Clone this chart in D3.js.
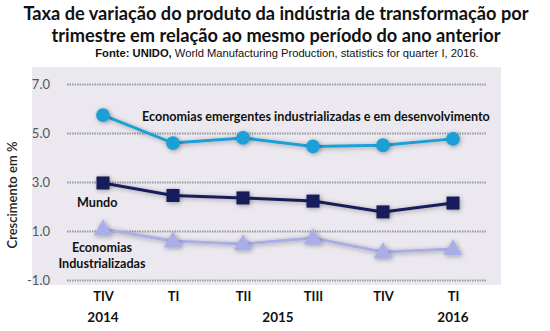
<!DOCTYPE html>
<html>
<head>
<meta charset="utf-8">
<script src="https://cdn.jsdelivr.net/npm/d3@7"></script>
<style>
  body { margin: 0; background: #fff; }
  svg { display: block; }
</style>
</head>
<body>
<div class="chart"></div>
<script>
// data
const quarters = ["TIV 2014", "TI 2015", "TII 2015", "TIII 2015", "TIV 2015", "TI 2016"];
const quarterLabels = ["TIV", "TI", "TII", "TIII", "TIV", "TI"];
const emergentes = [5.73, 4.59, 4.8, 4.45, 4.5, 4.76];
const mundo = [2.96, 2.45, 2.35, 2.22, 1.78, 2.14];
const industrializadas = [1.08, 0.59, 0.47, 0.71, 0.14, 0.27];
const yTicks = [-1, 1, 3, 5, 7];
const years = [
  { label: "2014", from: 0, to: 0 },
  { label: "2015", from: 2, to: 3 },
  { label: "2016", from: 5, to: 5 }
];

(function() {
  const svgWidth = 550, svgHeight = 331;

  const svg = d3.select(".chart")
    .append("svg")
    .attr("width", svgWidth)
    .attr("height", svgHeight);

  const defs = svg.append("defs");
  const f = defs.append("filter").attr("id", "shadow")
    .attr("x", "-80%").attr("y", "-80%").attr("width", "260%").attr("height", "260%");
  f.append("feGaussianBlur").attr("in", "SourceAlpha").attr("stdDeviation", 2.5).attr("result", "b");
  f.append("feOffset").attr("in", "b").attr("dx", 1).attr("dy", 1).attr("result", "o");
  f.append("feComponentTransfer").attr("in", "o").attr("result", "o2")
    .append("feFuncA").attr("type", "linear").attr("slope", 0.35);
  const m = f.append("feMerge");
  m.append("feMergeNode").attr("in", "o2");
  m.append("feMergeNode").attr("in", "SourceGraphic");

  // title
  const title = svg.append("text")
    .attr("text-anchor", "middle")
    .attr("font-family", "Lato, 'Open Sans', sans-serif")
    .attr("font-weight", "bold")
    .attr("font-size", 18.2)
    .attr("fill", "#111");
  title.append("tspan").attr("x", 276).attr("y", 20)
    .text("Taxa de variação do produto da indústria de transformação por");
  title.append("tspan").attr("x", 276).attr("y", 42)
    .text("trimestre em relação ao mesmo período do ano anterior");

  const sub = svg.append("text")
    .attr("x", 287).attr("y", 57)
    .attr("text-anchor", "middle")
    .attr("font-family", "'Liberation Sans', Arial, sans-serif")
    .attr("font-size", 11.2)
    .attr("fill", "#111");
  sub.append("tspan").attr("font-weight", "bold").text("Fonte: UNIDO, ");
  sub.append("tspan").text("World Manufacturing Production, statistics for quarter I, 2016.");

  // plot area
  svg.append("rect")
    .attr("x", 32).attr("y", 67)
    .attr("width", 469).attr("height", 218)
    .attr("fill", "#ebe9ef");

  const x = d3.scalePoint()
    .domain(quarters)
    .range([103, 453]);

  const y = d3.scaleLinear()
    .domain([-1, 7])
    .range([280, 84]);

  // grid lines
  const yAxis = d3.axisLeft(y)
    .tickValues(yTicks)
    .tickFormat(d => d.toFixed(1))
    .tickSize(-(487 - 67))
    .tickPadding(17);

  const gy = svg.append("g")
    .attr("transform", "translate(67,0)")
    .call(yAxis);
  gy.select(".domain").remove();
  gy.selectAll(".tick line")
    .attr("stroke", "#9a9a9e")
    .attr("stroke-width", 2)
    .attr("stroke-dasharray", "1.5,1");
  gy.selectAll(".tick text")
    .attr("font-family", "Lato, 'Open Sans', sans-serif")
    .attr("font-size", 13)
    .attr("fill", "#555");

  // y title
  svg.append("text")
    .attr("transform", "translate(17,195) rotate(-90)")
    .attr("text-anchor", "middle")
    .attr("font-family", "Lato, 'Open Sans', sans-serif")
    .attr("font-weight", 600)
    .attr("font-size", 13)
    .attr("fill", "#222")
    .text("Crescimento em %");

  // x axis labels
  const xAxis = d3.axisBottom(x)
    .tickFormat((d, i) => quarterLabels[i])
    .tickSize(0)
    .tickPadding(0);
  const gx = svg.append("g")
    .attr("transform", "translate(0,292)")
    .call(xAxis);
  gx.select(".domain").remove();
  gx.selectAll(".tick text")
    .attr("font-family", "Lato, 'Open Sans', sans-serif")
    .attr("font-weight", "bold")
    .attr("font-size", 13)
    .attr("fill", "#111");

  svg.selectAll("text.year")
    .data(years)
    .enter()
    .append("text")
    .attr("class", "year")
    .attr("x", d => (x(quarters[d.from]) + x(quarters[d.to])) / 2)
    .attr("y", 322)
    .attr("text-anchor", "middle")
    .attr("font-family", "Lato, 'Open Sans', sans-serif")
    .attr("font-weight", "bold")
    .attr("font-size", 13.5)
    .attr("fill", "#111")
    .text(d => d.label);

  const line = d3.line()
    .x((d, i) => x(quarters[i]))
    .y(d => y(d));

  function series(values, color, shape) {
    const g = svg.append("g");
    g.append("path")
      .datum(values)
      .attr("d", line)
      .attr("fill", "none")
      .attr("stroke", color)
      .attr("stroke-width", 3)
      .attr("filter", "url(#shadow)");
    const sym = d3.symbol().type(shape).size(shape === d3.symbolCircle ? 150 : shape === d3.symbolSquare ? 170 : 150);
    g.selectAll("path.mark")
      .data(values)
      .enter()
      .append("path")
      .attr("class", "mark")
      .attr("d", sym)
      .attr("transform", (d, i) => `translate(${x(quarters[i])},${y(d) + (shape === d3.symbolTriangle ? 1 : 0)})`)
      .attr("fill", color)
      .attr("filter", "url(#shadow)");
  }

  series(industrializadas, "#a9aee8", d3.symbolTriangle);
  series(mundo, "#191c5c", d3.symbolSquare);
  series(emergentes, "#1d9fd6", d3.symbolCircle);

  // series labels
  const lab = (tx, ty, txt, anchor) => svg.append("text")
    .attr("x", tx).attr("y", ty)
    .attr("text-anchor", anchor || "start")
    .attr("font-family", "Lato, 'Open Sans', sans-serif")
    .attr("font-weight", "bold")
    .attr("font-size", 12.6)
    .attr("fill", "#111")
    .text(txt);

  lab(142, 121, "Economias emergentes industrializadas e em desenvolvimento");
  lab(77, 207, "Mundo");
  lab(102, 252, "Economias", "middle");
  lab(102, 268, "Industrializadas", "middle");
})();
</script>
</body>
</html>
